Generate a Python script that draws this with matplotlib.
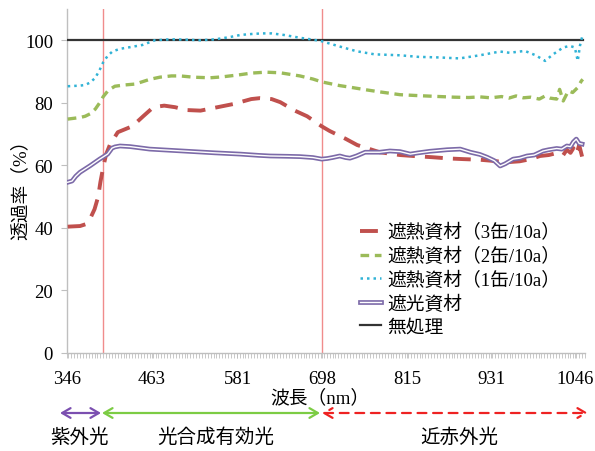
import matplotlib
matplotlib.use("Agg")
import matplotlib.pyplot as plt
import matplotlib.patheffects as pe
from matplotlib.ticker import MultipleLocator, FixedLocator

plt.rcParams['font.family'] = ['Liberation Serif', 'Noto Sans CJK JP', 'DejaVu Sans']

# Spectral transmittance (%) of each covering material
wl_1can = [347, 364, 371, 378, 385, 391, 396, 402, 409, 420, 433, 450, 467, 488, 510,
           530, 550, 570, 585, 600, 615, 628, 645, 667, 685, 697, 722, 745, 770, 805,
           830, 860, 887, 915, 943, 956, 977, 992, 1005, 1016, 1030, 1039, 1046, 1050,
           1053, 1057]
tr_1can = [85.3, 85.5, 85.7, 86.5, 88.0, 90.5, 93.0, 95.0, 96.5, 97.3, 97.8, 98.5, 100.0,
           100.3, 100.2, 100.0, 100.3, 101.0, 101.7, 102.0, 102.2, 102.2, 101.7, 100.8,
           100.2, 99.7, 98.0, 96.5, 95.5, 95.2, 94.7, 94.5, 94.2, 95.2, 96.4, 96.0, 96.6,
           95.2, 93.4, 95.5, 97.7, 98.2, 97.7, 93.4, 98.2, 102.0]

wl_2can = [347, 364, 371, 378, 385, 391, 396, 403, 412, 425, 440, 460, 474, 490, 502,
           520, 543, 560, 585, 600, 620, 640, 667, 685, 697, 722, 736, 757, 777, 805,
           830, 860, 880, 900, 915, 930, 945, 955, 965, 975, 985, 997, 1005, 1012, 1021,
           1025, 1030, 1037, 1043, 1050, 1055, 1057]
tr_2can = [74.8, 75.3, 75.7, 76.5, 78.0, 80.0, 82.0, 84.0, 85.3, 85.7, 86.0, 87.5, 88.2,
           88.6, 88.6, 88.2, 88.0, 88.3, 89.0, 89.5, 89.8, 89.6, 88.6, 87.6, 86.7, 85.5,
           85.0, 84.2, 83.5, 82.6, 82.3, 82.0, 81.8, 81.7, 81.9, 81.6, 82.0, 81.5, 82.2,
           81.6, 81.8, 81.2, 82.2, 81.5, 81.2, 84.3, 80.6, 83.8, 83.3, 84.9, 87.0, 87.5]

wl_3can = [347, 364, 372, 378, 384, 389, 392, 396, 400, 405, 416, 436, 451, 465, 480,
           495, 510, 530, 547, 575, 600, 612, 628, 640, 660, 677, 697, 708, 730, 746,
           777, 805, 823, 850, 873, 892, 915, 930, 952, 970, 985, 998, 1010, 1022, 1030,
           1035, 1040, 1044, 1048, 1052, 1056]
tr_3can = [40.4, 40.6, 41.2, 43.0, 46.0, 50.0, 54.6, 59.5, 63.6, 66.5, 70.6, 72.5, 75.7,
           78.6, 79.1, 78.6, 77.7, 77.5, 78.3, 79.6, 81.2, 81.5, 81.2, 80.2, 77.5, 75.7,
           72.5, 71.0, 68.5, 66.5, 64.2, 63.3, 63.0, 62.6, 62.2, 62.0, 61.8, 61.5, 61.0,
           61.3, 62.0, 63.0, 63.3, 64.0, 63.3, 65.0, 64.0, 65.5, 63.5, 66.5, 62.8]

wl_shade = [347, 353, 358, 364, 378, 391, 402, 408, 412, 419, 433, 460, 490, 520, 550,
            585, 610, 626, 650, 667, 685, 697, 705, 712, 722, 730, 736, 745, 757, 777,
            791, 805, 819, 830, 846, 870, 888, 902, 915, 925, 935, 943, 950, 961, 970,
            980, 990, 1002, 1010, 1021, 1028, 1035, 1040, 1044, 1048, 1052, 1056]
tr_shade = [54.6, 55.0, 56.5, 57.8, 59.9, 62.0, 63.6, 65.5, 65.9, 66.2, 66.0, 65.2, 64.8,
            64.4, 64.0, 63.6, 63.2, 63.0, 62.9, 62.8, 62.5, 62.0, 62.2, 62.5, 63.0, 62.5,
            62.3, 63.0, 64.2, 64.2, 64.6, 64.4, 63.6, 64.0, 64.5, 65.0, 65.2, 64.2, 63.5,
            62.6, 61.5, 59.8, 60.5, 62.0, 62.3, 63.0, 63.3, 64.6, 65.0, 65.4, 65.2, 66.2,
            66.0, 67.5, 68.4, 67.0, 66.8]

wl_none = [346, 1057]
tr_none = [100, 100]

tick_wl = [346, 463, 581, 698, 815, 931, 1046]
band_edges = [396, 697]   # UV / PAR / NIR boundaries

labels = ['遮熱資材（3缶/10a）', '遮熱資材（2缶/10a）', '遮熱資材（1缶/10a）', '遮光資材', '無処理']
band_names = ['紫外光', '光合成有効光', '近赤外光']

W, H = 595, 452
fig = plt.figure(figsize=(W / 100, H / 100), dpi=100)
ax = fig.add_axes([67 / W, 1 - 354 / H, 518 / W, 344 / H])

gray = '#bfbfbf'
for xb in band_edges:
    ax.axvline(xb, color='#f08c8c', lw=1.0, zorder=1)

l3, = ax.plot(wl_3can, tr_3can, color='#c0504d', lw=2.8, dashes=(4.6, 2.6),
              dash_capstyle='butt', label=labels[0], zorder=4)
l2, = ax.plot(wl_2can, tr_2can, color='#9bbb59', lw=2.4, dashes=(2.6, 1.7),
              label=labels[1], zorder=4)
l1, = ax.plot(wl_1can, tr_1can, color='#31b3d6', lw=1.8, dashes=(1.0, 1.6),
              label=labels[2], zorder=4)
ls, = ax.plot(wl_shade, tr_shade, color='white', lw=1.0, label=labels[3], zorder=5,
              path_effects=[pe.Stroke(linewidth=3.4, foreground='#7c6aa8'), pe.Normal()])
ln, = ax.plot(wl_none, tr_none, color='#333333', lw=1.6, label=labels[4], zorder=3)

ax.set_xlim(346, 1060)
ax.set_ylim(0, 110)
ax.xaxis.set_major_locator(FixedLocator(tick_wl))
ax.xaxis.set_minor_locator(MultipleLocator(4))
ax.yaxis.set_major_locator(FixedLocator([0, 20, 40, 60, 80, 100]))
ax.tick_params(axis='x', which='both', direction='out', length=3.5, width=0.6,
               color=gray, labelsize=13.5, pad=9)
ax.tick_params(axis='y', direction='out', length=4, width=0.8, color=gray,
               labelsize=13.5, pad=6)
for side in ('top', 'right'):
    ax.spines[side].set_visible(False)
for side in ('left', 'bottom'):
    ax.spines[side].set_color(gray)
    ax.spines[side].set_linewidth(1.0)

ax.set_ylabel('透過率（%）', fontsize=13.5)
ax.yaxis.set_label_coords((30 - 67) / 518, 0.49)
fig.text(320 / W, 1 - 398 / H, '波長（nm）', fontsize=13.5, ha='center', va='center')

leg = ax.legend(handles=[l3, l2, l1, ls, ln], loc='upper left',
                bbox_to_anchor=(360 / W, 1 - 224 / H), bbox_transform=fig.transFigure,
                frameon=False, fontsize=13.5, handlelength=1.1, handletextpad=0.35,
                labelspacing=0.3, borderpad=0, borderaxespad=0)

# wavelength band arrows under the axis
ay = 1 - 414 / H
def band_arrow(x0, x1, color, ls='-'):
    fig.add_artist(matplotlib.patches.FancyArrowPatch(
        (x0 / W, ay), (x1 / W, ay), transform=fig.transFigure,
        arrowstyle='<->,head_length=6,head_width=3.5', color=color, lw=1.6,
        linestyle=ls, shrinkA=0, shrinkB=0, mutation_scale=1))

band_arrow(60, 101, '#7b4fb0')
band_arrow(102, 320, '#7ccc44')
band_arrow(322, 588, '#ee2222', ls=(0, (4, 3)))

ty = 1 - 438 / H
for xc, name in zip([79, 216, 459], band_names):
    fig.text(xc / W, ty, name, fontsize=14, ha='center', va='center')

fig.savefig('out.png', dpi=100)
